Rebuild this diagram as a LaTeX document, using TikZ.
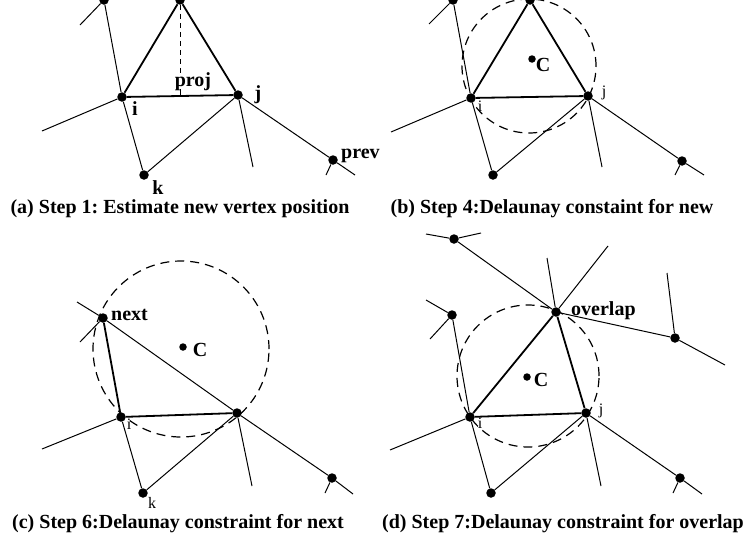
\documentclass[tikz,border=0pt]{standalone}
\usepackage{fontspec}
\setmainfont{Liberation Serif}
\frenchspacing
\begin{document}
\begin{tikzpicture}[x=1pt,y=-1pt,
  vtx/.style={circle,fill,inner sep=0pt,minimum size=9.5pt},
  cdot/.style={circle,fill,inner sep=0pt,minimum size=7.5pt},
  lnk/.style={line width=1pt},
  trg/.style={line width=1.8pt},
  dcirc/.style={line width=1.2pt,dash pattern=on 9pt off 6pt},
  lbl/.style={font=\fontsize{20}{22}\selectfont\bfseries,inner sep=0pt},
  sml/.style={font=\fontsize{16}{18}\selectfont,inner sep=0pt},
  capt/.style={font=\fontsize{20}{22}\selectfont\bfseries,inner sep=0pt}]
\useasboundingbox (0,0) rectangle (746,541);
\clip (0,0) rectangle (746,541);

\node[vtx] (a-nxt) at (104,0) {};
\node[vtx] (a-new) at (180,0) {};
\node[vtx] (a-i) at (122,97) {};
\node[vtx] (a-j) at (238,95) {};
\node[vtx] (a-k) at (144,175) {};
\node[vtx] (a-prev) at (333,160) {};
\coordinate (a-t1) at (80,25);
\coordinate (a-t2) at (42,131);
\coordinate (a-t3) at (253,167);
\coordinate (a-t4) at (326,175);
\coordinate (a-t5) at (355,175);
\coordinate (a-proj) at (180,96);
\draw[lnk] (a-t1) -- (a-nxt) -- (a-i) -- (a-k) -- (a-j) -- (a-t3);
\draw[lnk] (a-t2) -- (a-i);
\draw[lnk] (a-j) -- (a-prev) -- (a-t5);
\draw[lnk] (a-prev) -- (a-t4);
\draw[trg] (a-i) -- (a-new) -- (a-j) -- (a-i);
\draw[lnk, dash pattern=on 5pt off 4pt] (a-new) -- ++(0,76);
\draw[lnk] (a-proj) -- ++(0,-7);
\node[lbl] at (193,82) {proj};
\node[lbl] at (135,109) {i};
\node[lbl] at (258,95) {j};
\node[lbl] at (158,188) {k};
\node[lbl, anchor=west] at (341,156) {prev};
\node[capt] (a-cap) at (180,209) {(a) Step 1: Estimate new vertex position};

\node[vtx] (b-nxt) at (453,0) {};
\node[vtx] (b-new) at (530,0) {};
\node[vtx] (b-i) at (471,98) {};
\node[vtx] (b-j) at (588,96) {};
\node[vtx] (b-k) at (493,175) {};
\node[vtx] (b-prev) at (682,161) {};
\node[cdot] (b-c) at (532,59) {};
\coordinate (b-t1) at (429,24);
\coordinate (b-t2) at (391,132);
\coordinate (b-t3) at (602,167);
\coordinate (b-t4) at (675,175);
\coordinate (b-t5) at (704,175);
\coordinate (b-cc) at (529,66);
\draw[lnk] (b-t1) -- (b-nxt) -- (b-i) -- (b-k) -- (b-j) -- (b-t3);
\draw[lnk] (b-t2) -- (b-i);
\draw[lnk] (b-j) -- (b-prev) -- (b-t5);
\draw[lnk] (b-prev) -- (b-t4);
\draw[trg] (b-i) -- (b-new) -- (b-j) -- (b-i);
\draw[dcirc] (b-cc) circle[radius=67pt];
\node[lbl] at (543,65) {C};
\node[sml] at (480,106) {i};
\node[sml] at (604,93) {j};
\node[capt] (b-cap) at (552,209) {(b) Step 4:Delaunay constaint for new};

\node[vtx] (c-nxt) at (103,318) {};
\node[vtx] (c-i) at (121,417) {};
\node[vtx] (c-j) at (237,413) {};
\node[vtx] (c-k) at (143,493) {};
\node[vtx] (c-prev) at (332,478) {};
\node[cdot] (c-c) at (183,347) {};
\coordinate (c-t0) at (77,302);
\coordinate (c-t1) at (80,342);
\coordinate (c-t2) at (42,449);
\coordinate (c-t3) at (252,486);
\coordinate (c-t4) at (325,493);
\coordinate (c-t5) at (353,494);
\coordinate (c-cc) at (181,349);
\draw[lnk] (c-t0) -- (c-nxt) -- (c-t1);
\draw[lnk] (c-nxt) -- (c-j) -- (c-prev) -- (c-t5);
\draw[lnk] (c-prev) -- (c-t4);
\draw[lnk] (c-t2) -- (c-i) -- (c-k) -- (c-j) -- (c-t3);
\draw[trg] (c-nxt) -- (c-i) -- (c-j);
\draw[dcirc] (c-cc) circle[radius=88pt];
\node[lbl, anchor=west] at (111,315) {next};
\node[lbl] at (200,350) {C};
\node[sml] at (129,424) {i};
\node[sml] at (152,503) {k};
\node[capt] (c-cap) at (178,524) {(c) Step 6:Delaunay constraint for next};

\node[vtx] (d-l) at (452,315) {};
\node[vtx] (d-t) at (454,239) {};
\node[vtx] (d-ov) at (556,312) {};
\node[vtx] (d-r) at (675,338) {};
\node[vtx] (d-i) at (470,417) {};
\node[vtx] (d-j) at (586,413) {};
\node[vtx] (d-k) at (491,493) {};
\node[vtx] (d-prev) at (680,478) {};
\node[cdot] (d-c) at (527,377) {};
\coordinate (d-lt1) at (426,300);
\coordinate (d-lt2) at (430,339);
\coordinate (d-tt1) at (426,234);
\coordinate (d-tt2) at (481,233);
\coordinate (d-ot) at (547,258);
\coordinate (d-ou) at (608,246);
\coordinate (d-rt1) at (667,273);
\coordinate (d-rt2) at (725,365);
\coordinate (d-t2) at (390,450);
\coordinate (d-t3) at (601,486);
\coordinate (d-t4) at (673,493);
\coordinate (d-t5) at (702,494);
\coordinate (d-cc) at (528,376);
\draw[lnk] (d-lt1) -- (d-l) -- (d-lt2);
\draw[lnk] (d-l) -- (d-i) -- (d-k) -- (d-j) -- (d-t3);
\draw[lnk] (d-t2) -- (d-i);
\draw[lnk] (d-tt1) -- (d-t) -- (d-tt2);
\draw[lnk] (d-t) -- (d-ov) -- (d-r);
\draw[lnk] (d-rt1) -- (d-r) -- (d-rt2);
\draw[lnk] (d-ot) -- (d-ov) -- (d-ou);
\draw[lnk] (d-j) -- (d-prev) -- (d-t5);
\draw[lnk] (d-prev) -- (d-t4);
\draw[trg] (d-i) -- (d-ov) -- (d-j) -- (d-i);
\draw[dcirc] (d-cc) circle[radius=71pt];
\node[lbl, anchor=west] at (571,311) {overlap};
\node[lbl] at (541,380) {C};
\node[sml] at (480,423) {i};
\node[sml] at (601,411) {j};
\node[capt] (d-cap) at (563,524) {(d) Step 7:Delaunay constraint for overlap};
\end{tikzpicture}
\end{document}
